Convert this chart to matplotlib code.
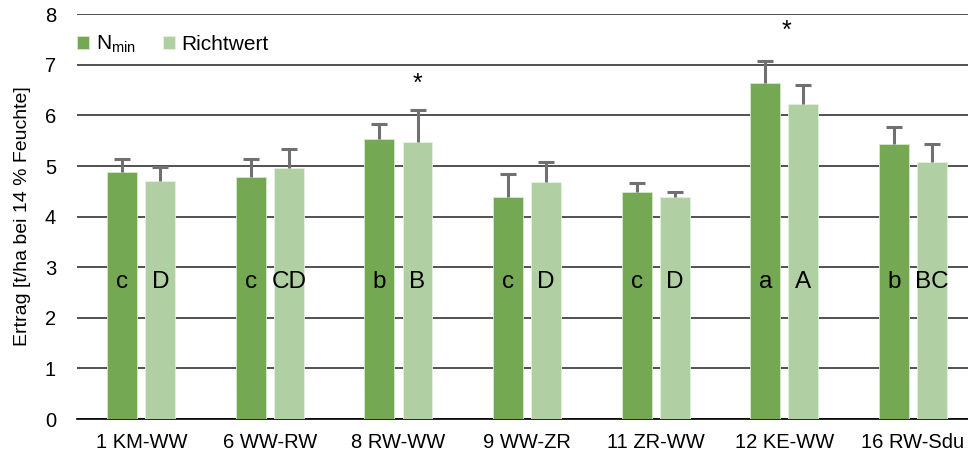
import numpy as np
import matplotlib.pyplot as plt

plt.rcParams['font.family'] = ['Liberation Sans', 'DejaVu Sans']

groups = ['1 KM-WW', '6 WW-RW', '8 RW-WW', '9 WW-ZR', '11 ZR-WW', '12 KE-WW', '16 RW-Sdu']
nmin = [4.88, 4.78, 5.53, 4.39, 4.49, 6.64, 5.43]
nmin_err = [0.26, 0.36, 0.30, 0.45, 0.17, 0.43, 0.34]
richt = [4.70, 4.96, 5.47, 4.68, 4.39, 6.23, 5.08]
richt_err = [0.28, 0.38, 0.64, 0.40, 0.10, 0.37, 0.35]
nmin_letters = ['c', 'c', 'b', 'c', 'c', 'a', 'b']
richt_letters = ['D', 'CD', 'B', 'D', 'D', 'A', 'BC']
star_groups = [2, 5]
star_dx = [0.15, 0.02]
star_y = [6.63, 7.68]

dark = '#75a853'
light = '#b0d0a4'
errc = '#707070'

fig = plt.figure(figsize=(9.68, 4.57), dpi=100)
# plot area runs past the right edge, as in the cropped original
ax = fig.add_axes([0.0795, 0.083, 0.93, 0.886])

x = np.arange(len(groups))
w = 0.233
off = 0.148

ax.bar(x - off, nmin, w, color=dark, edgecolor='#d8e8cf', linewidth=0.6, zorder=3,
       label='N$_{\\mathregular{min}}$')
ax.bar(x + off, richt, w, color=light, edgecolor='#e6f0e0', linewidth=0.6, zorder=3,
       label='Richtwert')
for xs, vals, errs in [(x - off, nmin, nmin_err), (x + off, richt, richt_err)]:
    eb = ax.errorbar(xs, vals, yerr=[np.zeros(len(x)), errs], fmt='none', ecolor=errc,
                     elinewidth=2.2, capsize=6, capthick=2.2, zorder=4)
    eb[1][0].set_visible(False)  # no cap at the bar top

for i in range(len(groups)):
    ax.text(x[i] - off, 2.7, nmin_letters[i], ha='center', va='center', fontsize=17.5, zorder=5)
    ax.text(x[i] + off, 2.7, richt_letters[i], ha='center', va='center', fontsize=17.5, zorder=5)
for g, dx, yv in zip(star_groups, star_dx, star_y):
    ax.text(x[g] + dx, yv, '*', ha='center', va='center', fontsize=18, zorder=5)

ax.set_xlim(-0.5, len(groups) - 0.5)
ax.set_ylim(0, 8)
ax.set_yticks(range(9))
ax.set_xticks(x)
ax.set_xticklabels(groups, fontsize=14.5)
ax.tick_params(axis='y', labelsize=14.5, length=0, pad=15)
ax.tick_params(axis='x', length=0, pad=10)
ax.yaxis.grid(True, color='#333333', linewidth=1.2, zorder=0)
ax.set_axisbelow(True)
for s in ['top', 'right', 'left']:
    ax.spines[s].set_visible(False)
ax.spines['bottom'].set_color('black')
ax.spines['bottom'].set_linewidth(1.2)
ax.set_ylabel('Ertrag [t/ha bei 14 % Feuchte]', fontsize=14, labelpad=10)

leg = ax.legend(loc='upper left', bbox_to_anchor=(-0.021, 0.998), ncol=2, frameon=False,
                fontsize=15, handlelength=0.6, handleheight=0.6, handletextpad=0.3,
                columnspacing=1.3)

fig.savefig('out.png', dpi=100)
